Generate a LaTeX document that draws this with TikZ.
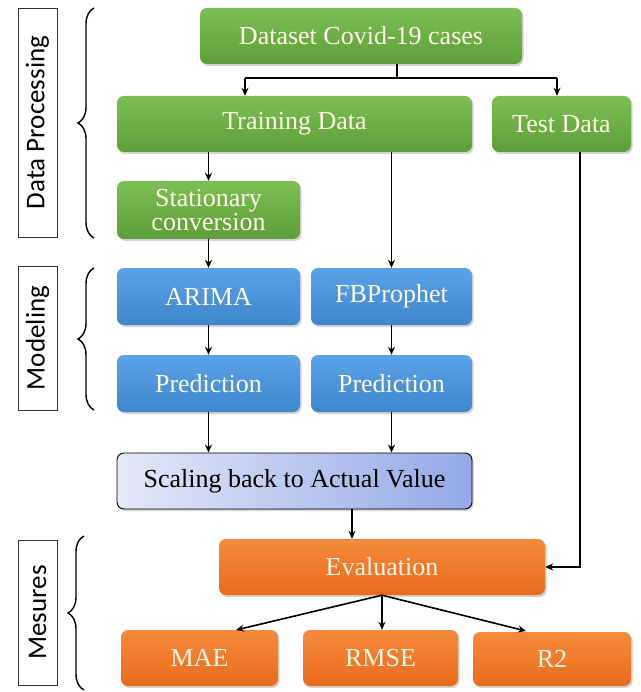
\documentclass[tikz,border=0pt]{standalone}
\usepackage{fontspec}
\setmainfont{Liberation Serif}
\newfontfamily\labfont{Carlito}
\usetikzlibrary{shadows,decorations.pathreplacing,arrows.meta}
\definecolor{gtop}{HTML}{7DBE55}
\definecolor{gbot}{HTML}{5E9E38}
\definecolor{btop}{HTML}{5BA3E8}
\definecolor{bbot}{HTML}{3F85CC}
\definecolor{otop}{HTML}{F68A3E}
\definecolor{obot}{HTML}{E96B1C}
\definecolor{stxt}{HTML}{FFF8E6}
\definecolor{sleft}{HTML}{E4E8F8}
\definecolor{sright}{HTML}{93A8E6}
\tikzset{
  base/.style={rounded corners=7pt, draw=none, text=stxt, font=\fontsize{26}{28}\selectfont, align=center, inner sep=0pt,
    drop shadow={shadow xshift=1.5pt, shadow yshift=-2pt, opacity=0.35}},
  gbox/.style={base, top color=gtop, bottom color=gbot},
  bbox/.style={base, top color=btop, bottom color=bbot},
  obox/.style={base, top color=otop, bottom color=obot},
  conn/.style={draw=black, line width=1.6pt, -{Stealth[length=8pt,width=7pt]}},
  plainconn/.style={draw=black, line width=1.6pt},
  labbox/.style={draw=black!80, line width=0.9pt, fill=white, inner sep=0pt},
  labtext/.style={rotate=90, font=\labfont\fontsize{27}{30}\selectfont},
  brc/.style={decorate, decoration={brace, amplitude=16pt}, line width=1.4pt}
}
\begin{document}
\begin{tikzpicture}[x=1pt,y=-1pt]
\useasboundingbox (0,0) rectangle (640,692);
% boxes
\node[gbox, minimum width=322pt, minimum height=56pt] (ds) at (361,36) {Dataset Covid-19 cases};
\node[gbox, minimum width=355pt, minimum height=56pt] (tr) at (294.5,124) {Training Data};
\node[gbox, minimum width=139pt, minimum height=56pt] (te) at (561.5,124) {Test Data};
\node[gbox, minimum width=183pt, minimum height=58pt] (st) at (208.5,210) {Stationary\\[-4pt]conversion};
\node[bbox, minimum width=183pt, minimum height=57pt] (ar) at (208.5,296.5) {ARIMA};
\node[bbox, minimum width=161pt, minimum height=57pt] (fb) at (391.5,296.5) {FBProphet};
\node[bbox, minimum width=183pt, minimum height=57pt] (p1) at (208.5,383.5) {Prediction};
\node[bbox, minimum width=161pt, minimum height=57pt] (p2) at (391.5,383.5) {Prediction};
\node[base, draw=black, line width=0.9pt, left color=sleft, right color=sright, text=black, minimum width=355pt, minimum height=56pt] (sc) at (294.5,481) {Scaling back to Actual Value};
\node[obox, minimum width=326pt, minimum height=56pt] (ev) at (382,567) {Evaluation};
\node[obox, minimum width=157pt, minimum height=56pt] (mae) at (199.5,658) {MAE};
\node[obox, minimum width=155pt, minimum height=56pt] (rmse) at (380.5,658) {RMSE};
\node[obox, minimum width=158pt, minimum height=54pt] (r2) at (552,659) {R2};
% connectors
\coordinate (split) at (397,78);
\draw[plainconn] (ds.south -| split) -- (split);
\draw[plainconn] (245,78) -- (557,78);
\draw[conn] (245,78) -- (tr.north -| 245,0);
\draw[conn] (557,78) -- (te.north -| 557,0);
\draw[conn] (tr.south -| st.north) -- (st.north);
\draw[conn] (tr.south -| fb.north) -- (fb.north);
\draw[conn] (st.south) -- (ar.north);
\draw[conn] (ar.south) -- (p1.north);
\draw[conn] (fb.south) -- (p2.north);
\draw[conn] (p1.south) -- (sc.north -| p1.south);
\draw[conn] (p2.south) -- (sc.north -| p2.south);
\draw[conn] (sc.south -| 352,0) -- (ev.north -| 352,0);
\draw[conn] (te.south -| 580,0) -- (580,567) -- (ev.east);
\draw[conn] (ev.south) -- (236,630);
\draw[conn] (ev.south) -- (rmse.north -| ev.south);
\draw[conn] (ev.south) -- (526,631);
% side labels
\node[labbox, minimum width=39pt, minimum height=229pt] (l1) at (37.5,122.5) {};
\node[labtext] (t1) at (l1.center) {Data Processing};
\node[labbox, minimum width=39pt, minimum height=144pt] (l2) at (37.5,338) {};
\node[labtext] (t2) at (l2.center) {Modeling};
\node[labbox, minimum width=39pt, minimum height=145pt] (l3) at (37.5,612.5) {};
\node[labtext] (t3) at (l3.center) {Mesures};
% braces
\draw[brc] (94,238) -- (94,8);
\draw[brc] (94,410) -- (94,268);
\draw[brc] (84,690) -- (84,536);
\end{tikzpicture}
\end{document}
